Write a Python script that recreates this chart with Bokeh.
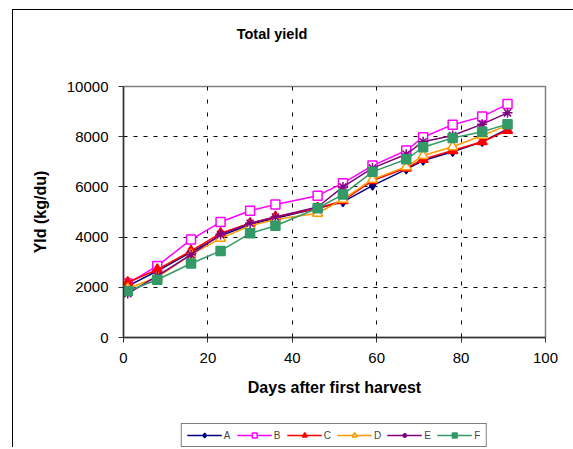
from bokeh.plotting import figure
from bokeh.models import Range1d, FixedTicker, Legend, LegendItem, Div
from bokeh.layouts import column
from bokeh.embed import file_html
from bokeh.resources import INLINE

days = [1, 8, 16, 23, 30, 36, 46, 52, 59, 67, 71, 78, 85, 91]
A = [2050, 2650, 3400, 4050, 4500, 4750, 5150, 5400, 6050, 6700, 7050, 7400, 7800, 8300]
B = [2150, 2850, 3900, 4600, 5050, 5300, 5650, 6150, 6850, 7450, 7980, 8480, 8800, 9300]
C = [2200, 2700, 3450, 4150, 4550, 4800, 5150, 5450, 6250, 6750, 7100, 7450, 7800, 8250]
D = [1950, 2400, 3300, 3950, 4450, 4700, 4950, 5500, 6300, 6800, 7250, 7600, 8050, 8450]
E = [1750, 2450, 3300, 4100, 4550, 4800, 5200, 6000, 6750, 7300, 7800, 8050, 8500, 8950]
F = [1850, 2300, 2950, 3450, 4150, 4450, 5150, 5700, 6600, 7100, 7580, 7950, 8200, 8500]
series_names = ["A", "B", "C", "D", "E", "F"]
x_ticks = [0, 20, 40, 60, 80, 100]
y_ticks = [0, 2000, 4000, 6000, 8000, 10000]
title_text = "Total yield"

FONT = "Liberation Sans"

title = Div(text=title_text, width=518, height=48, margin=0,
            styles={"font-family": FONT, "font-size": "14.5px", "font-weight": "bold",
                    "text-align": "center", "line-height": "48px", "color": "black"})

p = figure(frame_width=422, frame_height=251, output_backend="svg", toolbar_location=None,
           x_range=Range1d(0, 100), y_range=Range1d(0, 10000),
           min_border_left=110, min_border_right=28, min_border_top=28,
           min_border_bottom=86)

p.outline_line_color = "#808080"
p.outline_line_width = 1.5

for ax in (p.xaxis[0], p.yaxis[0]):
    ax.axis_line_color = "#333333"
    ax.axis_line_width = 1.5
    ax.major_tick_line_color = "#333333"
    ax.major_tick_out = 5
    ax.major_tick_in = 0
    ax.minor_tick_line_color = None
    ax.major_label_text_font = FONT
    ax.major_label_text_font_size = "15px"
    ax.major_label_text_color = "black"
    ax.axis_label_text_font = FONT
    ax.axis_label_text_font_size = "16px"
    ax.axis_label_text_font_style = "bold"
    ax.axis_label_text_color = "black"

p.xaxis.ticker = FixedTicker(ticks=x_ticks)
p.yaxis.ticker = FixedTicker(ticks=y_ticks)
p.xaxis.axis_label = "Days after first harvest"
p.yaxis.axis_label = "Yld (kg/du)"
p.xaxis.major_label_standoff = 10
p.yaxis.major_label_standoff = 10
p.xaxis.axis_label_standoff = 13
p.yaxis.axis_label_standoff = 15

p.xgrid.grid_line_color = "black"
p.xgrid.grid_line_dash = "4 9"
p.ygrid.grid_line_color = "black"
p.ygrid.grid_line_dash = "4 6"
p.xgrid.grid_line_width = 1
p.ygrid.grid_line_width = 1

# legend strip: same series drawn in a figure whose x range lies beyond the data
leg = figure(frame_width=422, frame_height=24, output_backend="svg", toolbar_location=None,
             x_range=Range1d(200, 300), y_range=Range1d(0, 10000),
             x_axis_location=None, y_axis_location=None,
             min_border_left=110, min_border_right=28, min_border_top=0,
             min_border_bottom=0)
leg.grid.visible = False
leg.outline_line_color = None

styles = [
    dict(color="#000080", marker="diamond", size=9, fill="#000080"),
    dict(color="#FF00FF", marker="square", size=9, fill="white"),
    dict(color="#FF0000", marker="triangle", size=10, fill="#FF0000"),
    dict(color="#FF9900", marker="triangle", size=10, fill="white"),
    dict(color="#800080", marker="asterisk", size=10, fill="#800080"),
    dict(color="#339966", marker="square", size=9, fill="#339966"),
]

items = []
for name, vals, st in zip(series_names, [A, B, C, D, E, F], styles):
    for fig in (p, leg):
        ln = fig.line(days, vals, line_color=st["color"], line_width=1.5)
        sc = fig.scatter(days, vals, marker=st["marker"], size=st["size"],
                         line_color=st["color"], fill_color=st["fill"], line_width=1.5)
    items.append(LegendItem(label=name, renderers=[ln, sc]))

legend = Legend(items=items, orientation="horizontal", location="center",
                glyph_width=35, glyph_height=12, label_height=12, label_width=7,
                label_text_font_size="10px", label_text_font=FONT,
                label_standoff=2, spacing=6, padding=5, margin=0,
                border_line_color="black", border_line_width=1,
                background_fill_color="white", background_fill_alpha=1)
leg.add_layout(legend)

layout = column(title, p, leg, spacing=0,
                styles={"margin-left": "12px", "margin-top": "9px",
                        "border-left": "1px solid black", "border-top": "1px solid black"})

open("out.html", "w").write(file_html(layout, INLINE))
